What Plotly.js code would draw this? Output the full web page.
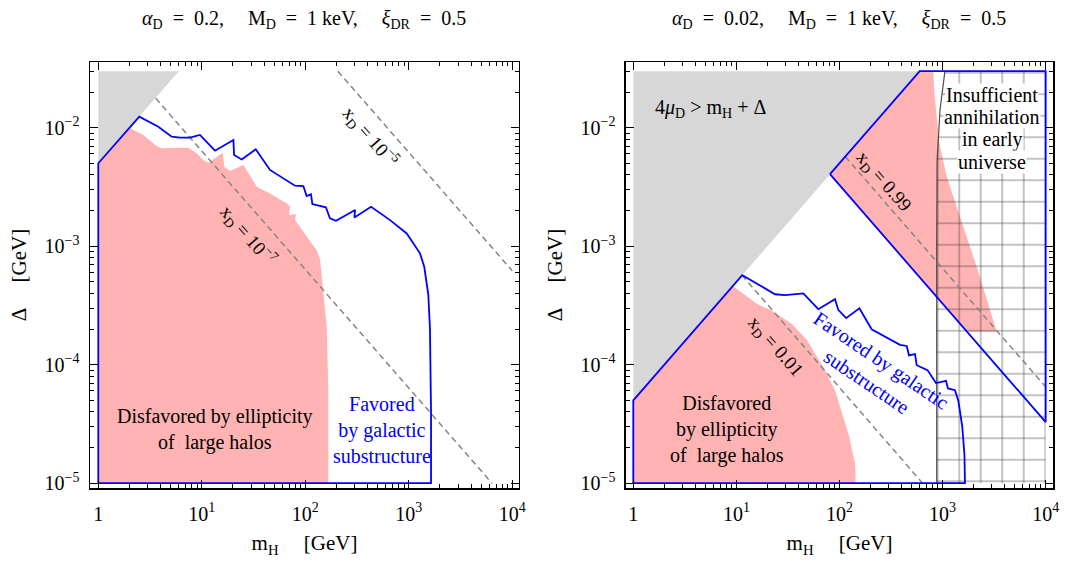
<!DOCTYPE html>
<html>
<head>
<meta charset="utf-8">
<script src="https://cdn.plot.ly/plotly-3.0.1.min.js"></script>
<style>html,body{margin:0;padding:0;background:#fff;}#plot{width:1065px;height:561px;}</style>
</head>
<body>
<div id="plot"></div>
<script>
// ---------- tick labels ----------
const xTickVals = [1, 10, 100, 1000, 10000];
const xTickText = ['1', '10<sup>1</sup>', '10<sup>2</sup>', '10<sup>3</sup>', '10<sup>4</sup>'];
const yTickVals = [1e-5, 1e-4, 1e-3, 1e-2];
const yTickText = ['10<sup>\u22125</sup>', '10<sup>\u22124</sup>', '10<sup>\u22123</sup>', '10<sup>\u22122</sup>'];
const minorMantissa = [2, 3, 4, 5, 6, 7, 8, 9];
const xDecades = [1, 10, 100, 1000];
const yDecades = [1e-6, 1e-5, 1e-4, 1e-3, 1e-2];

// ---------- left panel: alpha_D = 0.2 ----------
const L_gray_x = [1, 1, 6.0];
const L_gray_y = [0.005, 0.03, 0.03];

const L_pink_x = [1, 1, 2.0, 2.72, 3.66, 4.1, 7.41, 8.93, 10.3, 11.6, 15.9, 16.5, 18.7, 25.2, 33.9, 45.6, 66, 71.2, 70.1, 81.3, 79.5, 103, 129, 139, 149, 161, 167, 167];
const L_pink_y = [1e-5, 0.005, 0.0100, 0.00868, 0.00701, 0.0067, 0.00678, 0.00608, 0.00533, 0.00507, 0.00615, 0.00469, 0.00431, 0.00485, 0.00318, 0.00279, 0.0023, 0.00215, 0.00183, 0.00187, 0.00166, 0.0012, 0.00092, 0.00077, 0.0004, 0.00021, 0.000057, 1e-5];

const L_fav_x = [1, 1, 2.49, 3.8, 5.12, 6.15, 7.69, 9.6, 13.4, 20.2, 20.5, 24.3, 33.2, 45.6, 79.5, 95.7, 103, 113.5, 117, 158, 173, 198, 303, 298, 432, 659, 955, 1105, 1283, 1410, 1543, 1602, 1640, 1640, 1];
const L_fav_y = [1e-5, 0.00501, 0.0124, 0.0102, 0.0084, 0.00824, 0.00824, 0.00868, 0.0064, 0.00787, 0.00589, 0.0054, 0.00658, 0.0044, 0.00324, 0.00322, 0.00265, 0.00274, 0.00227, 0.00213, 0.00172, 0.00164, 0.00202, 0.00175, 0.00215, 0.00166, 0.00128, 0.00106, 0.00087, 0.00067, 0.00039, 0.0002, 0.000039, 1e-5, 1e-5];

const L_xd7_x = [3.59, 6360];
const L_xd7_y = [0.0177, 1e-5];
const L_xd5_x = [206, 10000];
const L_xd5_y = [0.03, 0.00062];

// ---------- right panel: alpha_D = 0.02 ----------
const R_gray_x = [1, 1, 600];
const R_gray_y = [5e-5, 0.03, 0.03];

const R_pink1_x = [1, 1, 9.3, 11.7, 15.9, 22, 26.5, 34.6, 48.1, 72.3, 90.4, 105, 117, 124, 132, 141, 143, 143];
const R_pink1_y = [1e-5, 5e-5, 4.6e-4, 3.95e-4, 3.25e-4, 2.86e-4, 2.58e-4, 2.2e-4, 1.62e-4, 9.0e-5, 6.1e-5, 4.0e-5, 3.0e-5, 2.5e-5, 1.9e-5, 1.5e-5, 1.2e-5, 1e-5];

const R_pink2_x = [80.9, 604, 813, 831, 877, 930, 1096, 1476, 2143, 3350, 1713];
const R_pink2_y = [4.05e-3, 0.03, 0.03, 0.0195, 0.0124, 7.4e-3, 3.87e-3, 1.77e-3, 6.7e-4, 1.9e-4, 1.9e-4];

const R_hatch_x = [1054, 944, 885, 877, 877, 10000, 10000];
const R_hatch_y = [0.03, 0.0141, 0.0053, 0.001, 1e-5, 1e-5, 0.03];
const R_hatchEdge_x = [1054, 944, 885, 877, 877];
const R_hatchEdge_y = [0.03, 0.0141, 0.0053, 0.001, 1e-5];

const R_fav1_x = [1, 1, 11.4, 15.7, 23.7, 29.6, 44.6, 62.3, 90.5, 97.3, 116, 156, 205, 386, 449, 472, 540, 561, 714, 863, 1080, 1128, 1318, 1419, 1552, 1630, 1648, 1];
const R_fav1_y = [1e-5, 5e-5, 5.7e-4, 4.86e-4, 3.93e-4, 3.87e-4, 4.0e-4, 2.94e-4, 3.57e-4, 2.9e-4, 2.47e-4, 2.99e-4, 1.99e-4, 1.47e-4, 1.44e-4, 1.2e-4, 1.23e-4, 9.9e-5, 9.0e-5, 7.0e-5, 7.3e-5, 6.3e-5, 6.1e-5, 5.0e-5, 3.0e-5, 1.73e-5, 1e-5, 1e-5];

const R_fav2_x = [80.9, 600, 10000, 10000, 80.9];
const R_fav2_y = [4.05e-3, 0.03, 0.03, 3.28e-5, 4.05e-3];

const R_xd01_x = [11.3, 640];
const R_xd01_y = [5.7e-4, 1e-5];
const R_xd99_x = [114, 10000];
const R_xd99_y = [5.7e-3, 6.5e-5];

// ---------- styles ----------
const SERIF = 'Liberation Serif';
const PINK = '#ffb3b3';
const GRAY = '#d7d7d7';
const BLUE = '#0000ff';
const DASH = '#858585';
const NB = '\u00a0';
const EN = '\u2002';
const GAP = '\u2003\u2009';

function poly(xs, ys, ax, color) {
  return {x: xs, y: ys, xaxis: ax[0], yaxis: ax[1], mode: 'lines', fill: 'toself',
          fillcolor: color, line: {width: 0, color: color}, hoverinfo: 'skip'};
}
function outline(xs, ys, ax, color, width, dash) {
  return {x: xs, y: ys, xaxis: ax[0], yaxis: ax[1], mode: 'lines',
          line: {color: color, width: width, dash: dash || 'solid'}, hoverinfo: 'skip'};
}
const A1 = ['x', 'y'], A2 = ['x2', 'y2'];

const traces = [
  poly(L_gray_x, L_gray_y, A1, GRAY),
  poly(L_pink_x, L_pink_y, A1, PINK),
  outline(L_xd7_x, L_xd7_y, A1, DASH, 1.5, '6px,4px'),
  outline(L_xd5_x, L_xd5_y, A1, DASH, 1.5, '6px,4px'),
  outline(L_fav_x, L_fav_y, A1, BLUE, 1.8),

  poly(R_gray_x, R_gray_y, A2, GRAY),
  poly(R_pink1_x, R_pink1_y, A2, PINK),
  poly(R_pink2_x, R_pink2_y, A2, PINK),
  {x: R_hatch_x, y: R_hatch_y, xaxis: 'x2', yaxis: 'y2', mode: 'lines', fill: 'toself',
   fillcolor: 'rgba(0,0,0,0)', line: {width: 0},
   fillpattern: {shape: '+', size: 21.5, solidity: 0.06, fgcolor: 'rgba(40,40,40,0.85)', bgcolor: 'rgba(0,0,0,0)'},
   hoverinfo: 'skip'},
  outline(R_hatchEdge_x, R_hatchEdge_y, A2, 'rgba(60,60,60,0.9)', 1.2),
  outline(R_xd01_x, R_xd01_y, A2, DASH, 1.5, '6px,4px'),
  outline(R_xd99_x, R_xd99_y, A2, DASH, 1.5, '6px,4px'),
  outline(R_fav1_x, R_fav1_y, A2, BLUE, 1.8),
  outline(R_fav2_x, R_fav2_y, A2, BLUE, 1.8)
];

function minorVals(decs, mant) {
  const out = [];
  decs.forEach(d => mant.forEach(m => out.push(d * m)));
  return out;
}

function xAxis(domain, range, anchor) {
  return {
    type: 'log', domain: domain, range: range, anchor: anchor,
    showgrid: false, zeroline: false, showline: true, linecolor: '#000', linewidth: 1.5,
    mirror: 'ticks', ticks: 'inside', ticklen: 8, tickwidth: 1.2, tickcolor: '#000',
    tickmode: 'array', tickvals: xTickVals, ticktext: xTickText, ticklabelstandoff: 7,
    tickfont: {family: SERIF, size: 20, color: '#000'},
    minor: {tickmode: 'array', tickvals: minorVals(xDecades, minorMantissa), ticks: 'inside',
            ticklen: 4, tickwidth: 1, tickcolor: '#000', showgrid: false},
    title: {text: 'm<sub>H</sub>' + GAP + '[GeV]', font: {family: SERIF, size: 21, color: '#000'}, standoff: 12}
  };
}
function yAxis(range, anchor) {
  return {
    type: 'log', domain: [0, 1], range: range, anchor: anchor,
    showgrid: false, zeroline: false, showline: true, linecolor: '#000', linewidth: 1.5,
    mirror: 'ticks', ticks: 'inside', ticklen: 8, tickwidth: 1.2, tickcolor: '#000',
    tickmode: 'array', tickvals: yTickVals, ticktext: yTickText, ticklabelstandoff: 5,
    tickfont: {family: SERIF, size: 20, color: '#000'},
    minor: {tickmode: 'array', tickvals: minorVals(yDecades, minorMantissa), ticks: 'inside',
            ticklen: 4, tickwidth: 1, tickcolor: '#000', showgrid: false},
    title: {text: '\u0394' + GAP + '[GeV]', font: {family: SERIF, size: 21, color: '#000'}, standoff: 12}
  };
}

const lg = Math.log10;
function ann(xr, yr, x, y, text, extra) {
  return Object.assign({xref: xr, yref: yr, x: lg(x), y: lg(y), text: text, showarrow: false,
    font: {family: SERIF, size: 20, color: '#000'}, xanchor: 'center', yanchor: 'middle'}, extra || {});
}
const TF = {family: SERIF, size: 20, color: '#000'};
const EQ = EN + '=' + EN;

const annotations = [
  // titles
  {xref: 'x domain', yref: 'paper', x: 0.5, y: 1.1,
   text: '<i>\u03b1</i><sub>D</sub>' + EQ + '0.2,' + GAP + 'M<sub>D</sub>' + EQ + '1 keV,' + GAP + '<i>\u03be</i><sub>DR</sub>' + EQ + '0.5',
   showarrow: false, font: TF, xanchor: 'center', yanchor: 'middle'},
  {xref: 'x2 domain', yref: 'paper', x: 0.5, y: 1.1,
   text: '<i>\u03b1</i><sub>D</sub>' + EQ + '0.02,' + GAP + 'M<sub>D</sub>' + EQ + '1 keV,' + GAP + '<i>\u03be</i><sub>DR</sub>' + EQ + '0.5',
   showarrow: false, font: TF, xanchor: 'center', yanchor: 'middle'},
  // left panel
  ann('x', 'y', 13.4, 2.86e-5, 'Disfavored by ellipticity<br>of' + NB + ' large halos'),
  ann('x', 'y', 547, 2.81e-5, 'Favored<br>by galactic<br>substructure', {font: {family: SERIF, size: 20, color: BLUE}}),
  ann('x', 'y', 28.1, 1.24e-3, 'x<sub>D</sub> = 10<sup>\u22127</sup>', {textangle: 49, font: {family: SERIF, size: 19, color: '#000'}}),
  ann('x', 'y', 422, 8.4e-3, 'x<sub>D</sub> = 10<sup>\u22125</sup>', {textangle: 49, font: {family: SERIF, size: 19, color: '#000'}}),
  // right panel
  ann('x2', 'y2', 5.55, 0.0146, '4<i>\u03bc</i><sub>D</sub> > m<sub>H</sub> + \u0394'),
  ann('x2', 'y2', 8.05, 2.85e-5, 'Disfavored<br>by ellipticity<br>of' + NB + ' large halos'),
  ann('x2', 'y2', 216, 8.8e-5, 'Favored by galactic<br>substructure', {textangle: 34, font: {family: SERIF, size: 20, color: BLUE}}),
  ann('x2', 'y2', 23.7, 1.42e-4, 'x<sub>D</sub> = 0.01', {textangle: 49, font: {family: SERIF, size: 19, color: '#000'}}),
  ann('x2', 'y2', 266, 3.5e-3, 'x<sub>D</sub> = 0.99', {textangle: 49, font: {family: SERIF, size: 19, color: '#000'}}),
  ann('x2', 'y2', 3034, 0.01888, 'Insufficient', {bgcolor: '#fff', borderpad: 0}),
  ann('x2', 'y2', 3034, 0.01225, 'annihilation', {bgcolor: '#fff', borderpad: 0}),
  ann('x2', 'y2', 3034, 7.88e-3, 'in early', {bgcolor: '#fff', borderpad: 0}),
  ann('x2', 'y2', 3034, 5.16e-3, 'universe', {bgcolor: '#fff', borderpad: 0})
];

const yr = [-5.0405, -1.4456];
const layout = {
  width: 1065, height: 561,
  margin: {l: 90, r: 12, t: 62, b: 73},
  paper_bgcolor: '#fff', plot_bgcolor: '#fff',
  showlegend: false,
  font: {family: SERIF, color: '#000'},
  xaxis: xAxis([0, 0.44548], [-0.0802, 4.0647], 'y'),
  yaxis: yAxis(yr, 'x'),
  xaxis2: xAxis([0.55659, 1], [-0.0708, 4.071], 'y2'),
  yaxis2: yAxis(yr, 'x2'),
  annotations: annotations
};

Plotly.newPlot('plot', traces, layout, {staticPlot: true, displayModeBar: false});
</script>
</body>
</html>
